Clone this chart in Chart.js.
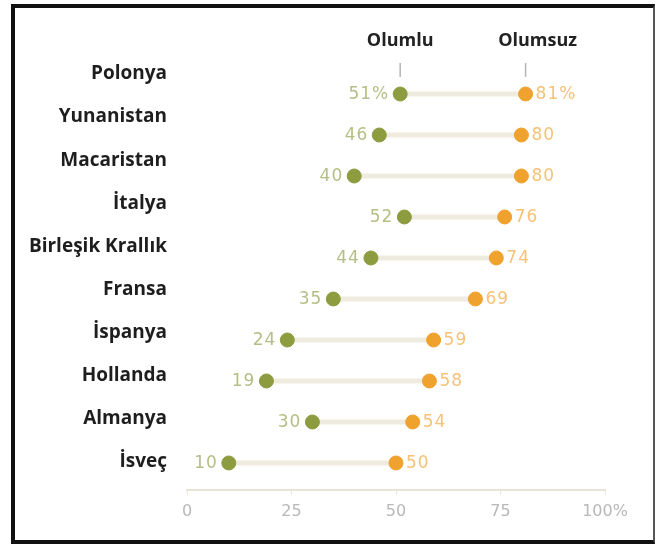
<!DOCTYPE html>
<html>
<head>
<meta charset="utf-8">
<script src="https://cdn.jsdelivr.net/npm/chart.js@4/dist/chart.umd.min.js"></script>
<style>
  html, body { margin: 0; padding: 0; background: #fff; }
  #wrap { position: relative; width: 656px; height: 544px; }
  #frame {
    position: absolute; left: 11px; top: 4px; width: 644px; height: 540px;
    box-sizing: border-box; border: 4px solid #111; border-right: 2px solid #555;
    pointer-events: none;
  }
</style>
</head>
<body>
<div id="wrap">
  <canvas id="grafica" width="656" height="544"></canvas>
  <div id="frame"></div>
</div>
<script>
// ===============================
// DATOS
// ===============================
const paises = ["Polonya", "Yunanistan", "Macaristan", "İtalya", "Birleşik Krallık",
  "Fransa", "İspanya", "Hollanda", "Almanya", "İsveç"];
const olumlu = [51, 46, 40, 52, 44, 35, 24, 19, 30, 10];
const olumsuz = [81, 80, 80, 76, 74, 69, 59, 58, 54, 50];
const ejeX = [0, 25, 50, 75, 100];

// colores
const verde = "#8d9c3f";
const verdeTexto = "#b5be85";
const naranja = "#f0a22e";
const naranjaTexto = "#f6c277";
const linea = "#efebde";

// pares para las lineas de union
const uniones = [];
paises.forEach((p, i) => {
  uniones.push({ x: olumlu[i], y: i });
  uniones.push({ x: olumsuz[i], y: i });
});

// ===============================
// PLUGIN: etiquetas de valores y encabezados
// ===============================
const etiquetas = {
  id: "etiquetas",
  afterDatasetsDraw(chart) {
    const ctx = chart.ctx;
    ctx.save();
    ctx.font = "17px 'DejaVu Sans'";
    ctx.letterSpacing = "1px";
    ctx.textBaseline = "middle";

    chart.getDatasetMeta(1).data.forEach((pt, i) => {
      ctx.fillStyle = verdeTexto;
      ctx.textAlign = "right";
      ctx.fillText(olumlu[i] + (i === 0 ? "%" : ""), pt.x - 11, pt.y + 1);
    });
    chart.getDatasetMeta(2).data.forEach((pt, i) => {
      ctx.fillStyle = naranjaTexto;
      ctx.textAlign = "left";
      ctx.fillText(olumsuz[i] + (i === 0 ? "%" : ""), pt.x + 10, pt.y + 1);
    });

    // encabezados sobre la primera fila
    const x = chart.scales.x;
    const x1 = x.getPixelForValue(olumlu[0]);
    const x2 = x.getPixelForValue(olumsuz[0]);
    ctx.letterSpacing = "0px";
    ctx.font = "bold 18px 'Open Sans'";
    ctx.fillStyle = "#222";
    ctx.textAlign = "center";
    ctx.fillText("Olumlu", x1, 41);
    ctx.fillText("Olumsuz", x2 + 12, 41);

    ctx.strokeStyle = "#b5b5b5";
    ctx.lineWidth = 1.5;
    ctx.beginPath();
    ctx.moveTo(x1, 63); ctx.lineTo(x1, 77);
    ctx.moveTo(x2, 63); ctx.lineTo(x2, 77);
    ctx.stroke();
    ctx.restore();
  }
};

// ===============================
// GRAFICA
// ===============================
const ctx = document.getElementById("grafica").getContext("2d");

new Chart(ctx, {
  type: "scatter",
  data: {
    datasets: [
      {
        type: "line",
        data: uniones,
        borderColor: linea,
        borderWidth: 5,
        pointRadius: 0,
        borderCapStyle: "round",
        segment: {
          borderColor: c => (c.p0DataIndex % 2 ? "transparent" : linea)
        },
        order: 3
      },
      {
        data: olumlu.map((v, i) => ({ x: v, y: i })),
        backgroundColor: verde,
        borderColor: verde,
        pointRadius: 7,
        order: 1
      },
      {
        data: olumsuz.map((v, i) => ({ x: v, y: i })),
        backgroundColor: naranja,
        borderColor: naranja,
        pointRadius: 7,
        order: 2
      }
    ]
  },
  options: {
    responsive: false,
    animation: false,
    layout: { padding: { top: 53, right: 51, bottom: 0, left: 0 } },
    plugins: {
      legend: { display: false },
      tooltip: { enabled: false }
    },
    scales: {
      x: {
        type: "linear",
        min: 0,
        max: 100,
        afterFit: s => { s.height = 54; },
        afterBuildTicks: s => { s.ticks = ejeX.map(v => ({ value: v })); },
        ticks: {
          color: "#b8b8b8",
          font: { family: "DejaVu Sans", size: 16 },
          padding: 7,
          callback: v => (v === 100 ? "100%" : v)
        },
        grid: { drawOnChartArea: false, drawTicks: true, tickLength: 5, color: "#ebe7da" },
        border: { color: "#e8e4d6", width: 2 }
      },
      y: {
        type: "linear",
        reverse: true,
        min: -1,
        max: 9.659,
        display: false
      },
      paises: {
        type: "linear",
        position: "left",
        reverse: true,
        min: -0.487,
        max: 9.652,
        afterFit: s => { s.width = 187; },
        afterBuildTicks: s => { s.ticks = paises.map((p, i) => ({ value: i })); },
        ticks: {
          color: "#1e1e1e",
          font: { family: "Open Sans", size: 19, weight: "bold" },
          padding: 20,
          callback: v => paises[v]
        },
        grid: { display: false, drawTicks: false },
        border: { display: false }
      }
    }
  },
  plugins: [etiquetas]
});
</script>
</body>
</html>
